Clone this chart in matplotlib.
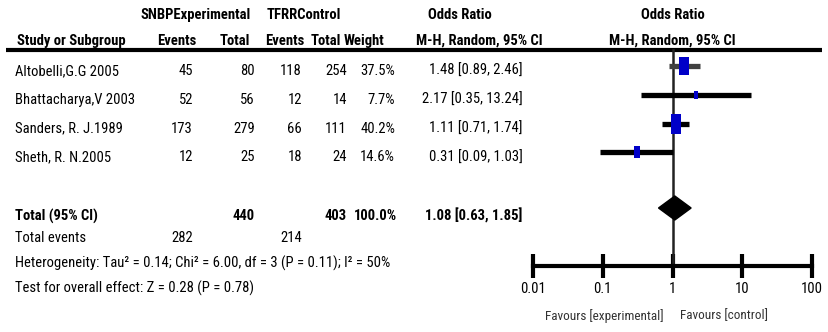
import matplotlib
matplotlib.use("Agg")
import matplotlib.pyplot as plt
import numpy as np

plt.rcParams['font.family'] = ['Roboto Condensed', 'DejaVu Sans']

# ---------------- data ----------------
studies = ["Altobelli,G.G 2005", "Bhattacharya,V 2003", "Sanders, R. J.1989", "Sheth, R. N.2005"]
exp_events = [45, 52, 173, 12]
exp_total = [80, 56, 279, 25]
ctl_events = [118, 12, 66, 18]
ctl_total = [254, 14, 111, 24]
weights = [37.5, 7.7, 40.2, 14.6]
odds = [1.48, 2.17, 1.11, 0.31]
ci_low = [0.89, 0.35, 0.71, 0.09]
ci_high = [2.46, 13.24, 1.74, 1.03]

total_or = 1.08
total_low = 0.63
total_high = 1.85
total_exp = 440
total_ctl = 403
total_weight = "100.0%"
total_events_exp = 282
total_events_ctl = 214
heterogeneity = "Heterogeneity: Tau² = 0.14; Chi² = 6.00, df = 3 (P = 0.11); I² = 50%"
overall = "Test for overall effect: Z = 0.28 (P = 0.78)"
xticks = [0.01, 0.1, 1, 10, 100]
xticklabels = ["0.01", "0.1", "1", "10", "100"]

# ---------------- layout ----------------
W, H = 829, 332
fig = plt.figure(figsize=(W / 100, H / 100), dpi=100)
ax = fig.add_axes([0, 0, 1, 1])
ax.set_xlim(0, W)
ax.set_ylim(H, 0)
ax.axis("off")

FS = 10.5
row_y = [66 + 28.8 * i for i in range(len(studies))]
text_dy = 5

def t(x, y, s, ha="left", bold=False, size=FS, color="black"):
    ax.text(x, y, s, ha=ha, va="center", fontsize=size,
            fontweight="bold" if bold else "normal", color=color)

# headers
t(196, 15, "SNBPExperimental", ha="center", bold=True)
t(304, 15, "TFRRControl", ha="center", bold=True)
t(460, 15, "Odds Ratio", ha="center", bold=True)
t(673, 15, "Odds Ratio", ha="center", bold=True)
t(17, 41, "Study or Subgroup", bold=True)
t(177, 41, "Events", ha="center", bold=True)
t(250, 41, "Total", ha="right", bold=True)
t(285, 41, "Events", ha="center", bold=True)
t(341, 41, "Total", ha="right", bold=True)
t(384, 41, "Weight", ha="right", bold=True)
t(479, 41, "M-H, Random, 95% CI", ha="center", bold=True)
t(672, 41, "M-H, Random, 95% CI", ha="center", bold=True)
ax.plot([6, 822], [49.5, 49.5], color="black", lw=3, solid_capstyle="butt")

# study rows
for i, y in enumerate(row_y):
    ty = y + text_dy
    t(15, ty, studies[i])
    t(193, ty, str(exp_events[i]), ha="right")
    t(255, ty, str(exp_total[i]), ha="right")
    t(302, ty, str(ctl_events[i]), ha="right")
    t(347, ty, str(ctl_total[i]), ha="right")
    t(395, ty, f"{weights[i]:.1f}%", ha="right")
    t(523, ty, f"{odds[i]:.2f} [{ci_low[i]:.2f}, {ci_high[i]:.2f}]", ha="right")

# totals
yt = 216
t(15, yt, "Total (95% CI)", bold=True)
t(255, yt, str(total_exp), ha="right", bold=True)
t(347, yt, str(total_ctl), ha="right", bold=True)
t(397, yt, total_weight, ha="right", bold=True)
t(522, yt, f"{total_or:.2f} [{total_low:.2f}, {total_high:.2f}]", ha="right", bold=True)
t(15, 238, "Total events")
t(193, 238, str(total_events_exp), ha="right")
t(302, 238, str(total_events_ctl), ha="right")
t(15, 263, heterogeneity)
t(15, 288, overall)

# ---------------- forest axes ----------------
x0, x1 = 533, 812
axf = fig.add_axes([x0 / W, 0, (x1 - x0) / W, 1])
axf.set_xscale("log")
axf.set_xlim(0.01, 100)
axf.set_ylim(H, 0)
axf.patch.set_alpha(0)
for s in ["top", "right", "left"]:
    axf.spines[s].set_visible(False)
axf.spines["bottom"].set_position(("data", 266))
axf.spines["bottom"].set_linewidth(3)
axf.set_yticks([])
axf.set_xticks(xticks)
axf.set_xticklabels(xticklabels, fontsize=FS)
axf.minorticks_off()
axf.tick_params(axis="x", which="major", direction="inout", length=17, width=3, pad=3)

# line of no effect
axf.plot([1, 1], [50, 266], color="#222222", lw=1.8)

# CI lines and markers
rect = [(-0.5, -1), (0.5, -1), (0.5, 1), (-0.5, 1), (-0.5, -1)]
for i, y in enumerate(row_y):
    col = "#404040" if i == 0 else "black"
    axf.plot([ci_low[i], ci_high[i]], [y, y], color=col, lw=3.8, solid_capstyle="butt", zorder=2)
    ms = 2.2 * np.sqrt(weights[i])
    axf.plot([odds[i]], [y], marker=rect, markersize=ms, color="#0000c8",
             markeredgewidth=0, linestyle="none", zorder=3)

# diamond
yd = 208
axf.fill([total_low, total_or, total_high, total_or], [yd, yd - 12, yd, yd + 12],
         color="black", zorder=3)

# favours labels
axf.text(0.75, 316, "Favours [experimental]", ha="right", va="center", fontsize=9.5, color="#333333")
axf.text(1.3, 316, "Favours [control]", ha="left", va="center", fontsize=9.5, color="#333333")

fig.savefig("out.png", dpi=100)
